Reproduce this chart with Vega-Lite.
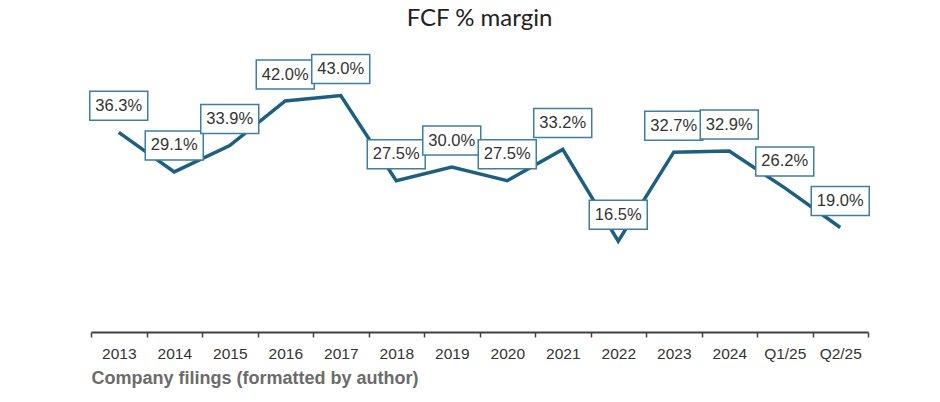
{
  "$schema": "https://vega.github.io/schema/vega-lite/v6.json",
  "width": 777,
  "height": 297,
  "autosize": {"type": "none"},
  "padding": {"left": 91, "top": 35, "right": 72, "bottom": 70},
  "background": "white",
  "view": {"stroke": null},
  "title": {
    "text": "FCF % margin",
    "font": "Lato",
    "fontSize": 24,
    "fontWeight": "normal",
    "color": "#222222",
    "anchor": "middle",
    "offset": 4
  },
  "data": {
    "values": [
      {"period": "2013", "margin": 0.363},
      {"period": "2014", "margin": 0.291},
      {"period": "2015", "margin": 0.339},
      {"period": "2016", "margin": 0.420},
      {"period": "2017", "margin": 0.430},
      {"period": "2018", "margin": 0.275},
      {"period": "2019", "margin": 0.300},
      {"period": "2020", "margin": 0.275},
      {"period": "2021", "margin": 0.332},
      {"period": "2022", "margin": 0.165},
      {"period": "2023", "margin": 0.327},
      {"period": "2024", "margin": 0.329},
      {"period": "Q1/25", "margin": 0.262},
      {"period": "Q2/25", "margin": 0.190}
    ]
  },
  "encoding": {
    "x": {
      "field": "period",
      "type": "ordinal",
      "sort": null,
      "scale": {"type": "band", "paddingInner": 0, "paddingOuter": 0},
      "axis": {
        "title": "Company filings (formatted by author)",
        "titleAnchor": "start",
        "titleAlign": "left",
        "titleFont": "Liberation Sans",
        "titleFontSize": 18,
        "titleFontWeight": "bold",
        "titleColor": "#6b6b6b",
        "titlePadding": 8,
        "labelAngle": 0,
        "labelFont": "Liberation Sans",
        "labelFontSize": 15.5,
        "labelColor": "#333333",
        "labelPadding": 9,
        "tickBand": "extent",
        "tickSize": 5,
        "tickColor": "#404040",
        "tickWidth": 1.5,
        "domainColor": "#404040",
        "domainWidth": 1.8,
        "grid": false
      }
    },
    "y": {
      "field": "margin",
      "type": "quantitative",
      "scale": {"domain": [0, 0.54], "nice": false, "zero": true},
      "axis": null
    }
  },
  "layer": [
    {
      "mark": {"type": "line", "color": "#1d5f7f", "strokeWidth": 3.5, "strokeJoin": "miter"}
    },
    {
      "mark": {
        "type": "point",
        "shape": "M-1,-0.5L1,-0.5L1,0.5L-1,0.5Z",
        "size": 3364,
        "filled": true,
        "fill": "white",
        "fillOpacity": 1,
        "stroke": "#3d7fa0",
        "strokeWidth": 1.5,
        "opacity": 1,
        "yOffset": -26.5
      }
    },
    {
      "mark": {
        "type": "text",
        "font": "Liberation Sans",
        "fontSize": 16.5,
        "color": "#333333",
        "baseline": "middle",
        "align": "center",
        "yOffset": -26.5
      },
      "encoding": {
        "text": {"field": "margin", "type": "quantitative", "format": ".1%"}
      }
    }
  ]
}
